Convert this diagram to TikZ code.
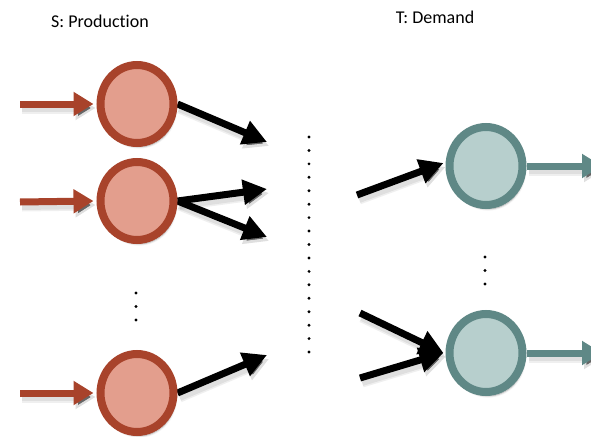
\documentclass[tikz,border=0pt]{standalone}
\usepackage{fontspec}
\setmainfont[Ligatures=NoCommon]{Carlito}
\usetikzlibrary{arrows.meta,shapes.geometric,backgrounds,shadows.blur}
\definecolor{srcline}{RGB}{168,67,43}
\definecolor{srcfill}{RGB}{227,158,141}
\definecolor{tgtline}{RGB}{95,136,134}
\definecolor{tgtfill}{RGB}{183,207,205}
\tikzset{
  circ/.style={ellipse, inner sep=0pt, minimum width=73pt, minimum height=78pt, line width=8pt,
    blur shadow={shadow blur steps=6, shadow xshift=2pt, shadow yshift=-4pt, shadow opacity=35}},
  src/.style={circ, draw=srcline, fill=srcfill},
  tgt/.style={circ, draw=tgtline, fill=tgtfill},
  shad/.style={preaction={draw=black!60, draw opacity=0.10, line width=11pt, transform canvas={shift={(2pt,-4pt)}}},
               preaction={draw=black!60, draw opacity=0.12, line width=8pt, transform canvas={shift={(2pt,-4pt)}}}},
  flow/.style={shad, line width=7pt, -{Triangle[length=24pt,width=24pt]}},
  inflow/.style={shad, line width=7pt, draw=srcline, -{Triangle[length=20pt,width=23pt]}},
  outflow/.style={shad, line width=7pt, draw=tgtline, -{Triangle[length=20pt,width=23pt]}},
  lbl/.style={font=\fontsize{18}{20}\selectfont},
  dot/.style={circle, fill=black, inner sep=0pt, minimum size=3.2pt}
}
\begin{document}
\begin{tikzpicture}[x=1pt,y=-1pt]
\useasboundingbox (0,0) rectangle (591,436);
\node[lbl] (sl) at (100,21) {S: Production};
\node[lbl] (tl) at (435,17) {T: Demand};
% nodes
\node[src] (s1) at (137,104) {};
\node[src] (s2) at (137,201) {};
\node[src] (s3) at (137,393) {};
\node[tgt] (t1) at (486,166) {};
\node[tgt] (t2) at (486,353) {};
% free ends
\coordinate (i1) at (20,104);
\coordinate (i2) at (20,202);
\coordinate (i3) at (20,393);
\coordinate (a1) at (267,142);
\coordinate (a2) at (267,189);
\coordinate (a3) at (267,237);
\coordinate (a4) at (267,355);
\coordinate (b1) at (357,195);
\coordinate (b2) at (360,313);
\coordinate (b3) at (360,378);
\coordinate (o1) at (602,166);
\coordinate (o2) at (602,353);
% dots
\foreach \k in {0,...,16} \node[dot] (m\k) at (309,137+13.44*\k) {};
\foreach \k in {0,1,2} \node[dot] (sd\k) at (136,293+13.5*\k) {};
\foreach \k in {0,1,2} \node[dot] (td\k) at (485,257+13.5*\k) {};
\begin{pgfonlayer}{background}
\draw[inflow] (i1) -- ([xshift=-3pt]s1.west);
\draw[inflow] (i2) -- ([xshift=-3pt]s2.west);
\draw[inflow] (i3) -- ([xshift=-3pt]s3.west);
\draw[flow] (s1.east) -- (a1);
\draw[flow] (s2.east) -- (a2);
\draw[flow] (s2.east) -- (a3);
\draw[flow] (s3.east) -- (a4);
\draw[flow] (b1) -- ([xshift=-2pt,yshift=3pt]t1.west);
\draw[flow] (b2) -- ([xshift=-2pt]t2.west);
\draw[flow] (b3) -- ([xshift=-2pt]t2.west);
\draw[outflow] (t1.east) -- (o1);
\draw[outflow] (t2.east) -- (o2);
\end{pgfonlayer}
\end{tikzpicture}
\end{document}
